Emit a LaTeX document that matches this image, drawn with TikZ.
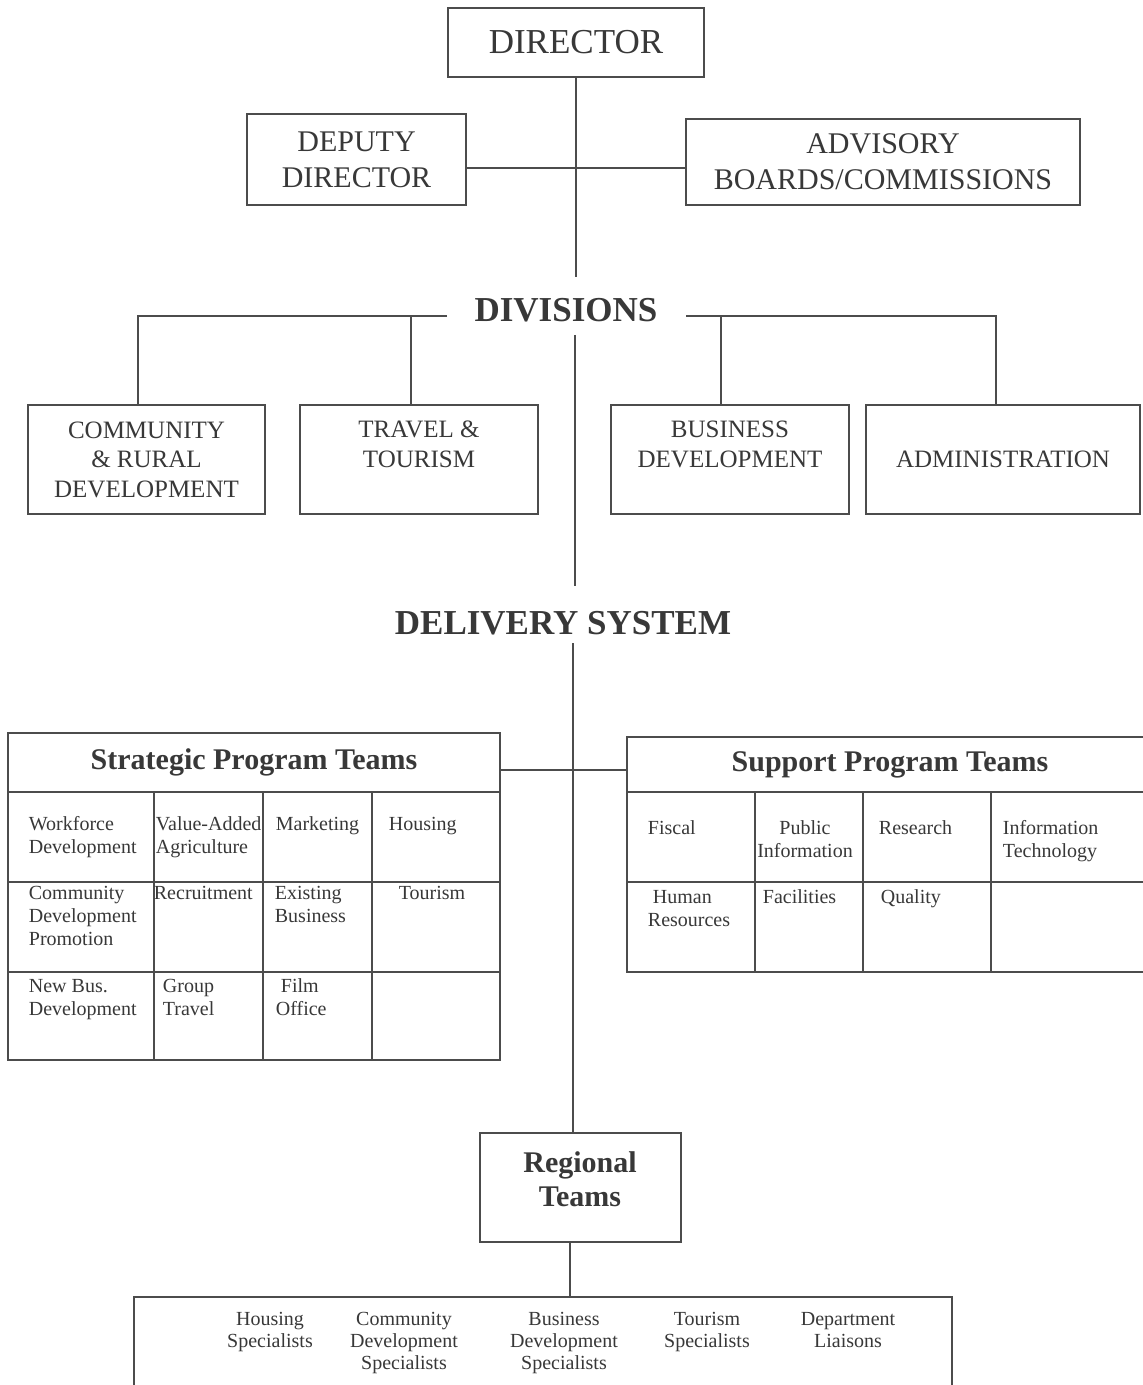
\documentclass[tikz,border=0pt]{standalone}
\usepackage{fontspec}
\setmainfont{Liberation Serif}
\definecolor{ink}{gray}{0.22}
\definecolor{rulec}{gray}{0.3}
\begin{document}
\begin{tikzpicture}[x=0.5pt,y=-0.5pt,line width=0.9pt,color=rulec,text=ink,
  box/.style={draw, rectangle, inner sep=0pt, align=center},
  bigcaps/.style={font=\fontsize{17.5}{21}\selectfont},
  midcaps/.style={font=\fontsize{15}{18}\selectfont},
  divcaps/.style={font=\fontsize{12.5}{14.75}\selectfont},
  heading/.style={font=\bfseries\fontsize{17.5}{21}\selectfont, inner sep=0pt},
  teamhead/.style={font=\bfseries\fontsize{15}{17}\selectfont, inner sep=0pt, align=center},
  cell/.style={font=\fontsize{10}{11.5}\selectfont, inner sep=0pt, align=left, anchor=north west},
  spec/.style={font=\fontsize{10}{11}\selectfont, inner sep=0pt, align=center, anchor=north},
]
\fill[white] (0,0) rectangle (1143,1385);
\useasboundingbox (0,0) rectangle (1143,1385);

% top level
\node[box,bigcaps,minimum width=128pt,minimum height=34.5pt] (dir) at (576,42.5) {DIRECTOR};
\node[box,midcaps,minimum width=109.5pt,minimum height=45.5pt] (dep) at (356.5,159.5) {DEPUTY\\DIRECTOR};
\node[box,midcaps,minimum width=197pt,minimum height=43pt] (adv) at (883,162) {ADVISORY\\BOARDS/COMMISSIONS};
\coordinate (d1) at (576,277);
\draw (dir.south) -- (d1);
\coordinate (h1) at (466,168);
\draw (dep.east |- h1) -- (adv.west |- h1);

% divisions
\node[heading] (divs) at (566,310) {DIVISIONS};
\coordinate (dl) at (447,316);
\coordinate (dr) at (686,316);
\node[box,divcaps,minimum width=118.5pt,minimum height=54.5pt] (comm) at (146.5,459.5) {COMMUNITY\\\& RURAL\\DEVELOPMENT};
\node[box,minimum width=119pt,minimum height=54.5pt] (trav) at (419,459.5) {};
\node[divcaps,align=center,anchor=north,inner sep=0pt] (travt) at ([yshift=-8pt]trav.north) {TRAVEL \&\\TOURISM};
\node[box,minimum width=119pt,minimum height=54.5pt] (bus) at (730,459.5) {};
\node[divcaps,align=center,anchor=north,inner sep=0pt] (bust) at ([yshift=-8pt]bus.north) {BUSINESS\\DEVELOPMENT};
\node[box,divcaps,minimum width=137pt,minimum height=54.5pt] (adm) at (1003,459.5) {ADMINISTRATION};
\draw (dl) -| ([xshift=-4.25pt]comm.north);
\draw ([xshift=-4pt]trav.north) -- ([xshift=-4pt]trav.north |- dl);
\draw (dr) -| ([xshift=-3.5pt]adm.north);
\draw ([xshift=-4.5pt]bus.north) -- ([xshift=-4.5pt]bus.north |- dr);

% central spine
\coordinate (c2a) at (575,335);
\coordinate (c2b) at (575,586);
\draw (c2a) -- (c2b);
\node[heading] (deliv) at (563,623) {DELIVERY SYSTEM};

% regional teams
\node[box,minimum width=100.5pt,minimum height=54.5pt] (reg) at (580.5,1187.5) {};
\node[teamhead] (regt) at (580,1179) {Regional\\Teams};
\coordinate (c3) at (573,643);
\draw (c3) -- (c3 |- reg.north);

% strategic program teams
\node[teamhead, minimum width=246pt, minimum height=29.5pt] (spt) at (254,762.5) {Strategic Program Teams};
\draw (8,733) rectangle (500,1060);
\draw (8,792) -- (500,792);
\draw (8,882) -- (500,882);
\draw (8,972) -- (500,972);
\draw (154,792) -- (154,1060);
\draw (263,792) -- (263,1060);
\draw (372,792) -- (372,1060);
\node[cell] (s11) at (28,816) {Workforce\\Development};
\node[cell] (s12) at (155,816) {Value-Added\\Agriculture};
\node[cell] (s13) at (275,816) {Marketing};
\node[cell] (s14) at (388,816) {Housing};
\node[cell] (s21) at (28,885) {Community\\Development\\Promotion};
\node[cell] (s22) at (153,885) {Recruitment};
\node[cell] (s23) at (274,885) {Existing\\Business};
\node[cell] (s24) at (398,885) {Tourism};
\node[cell] (s31) at (28,978) {New Bus.\\Development};
\node[cell] (s32) at (162,978) {Group\\Travel};
\node[cell] (s33) at (275,978) {\hspace{2.5pt}Film\\Office};

% support program teams
\node[teamhead, minimum width=258pt, minimum height=27.5pt] (supt) at (890,765) {Support Program Teams};
\draw (1143,737) -- (627,737) -- (627,972) -- (1143,972);
\draw (627,792) -- (1143,792);
\draw (627,882) -- (1143,882);
\draw (755,792) -- (755,972);
\draw (863,792) -- (863,972);
\draw (991,792) -- (991,972);
\node[cell] (u11) at (647,820) {Fiscal};
\node[cell,align=center,anchor=north] (u12) at (805,820) {Public\\Information};
\node[cell] (u13) at (878,820) {Research};
\node[cell] (u14) at (1002,820) {Information\\Technology};
\node[cell] (u21) at (647,889) {\hspace{2.5pt}Human\\Resources};
\node[cell] (u22) at (762,889) {Facilities};
\node[cell] (u23) at (880,889) {Quality};

% connector between team tables
\coordinate (stR) at (500,770);
\coordinate (suL) at (627,770);
\draw (stR) -- (suL);

% specialists
\coordinate (bt) at (570,1297);
\draw (reg.south -| bt) -- (bt);
\coordinate (bl) at (134,1385);
\coordinate (br) at (952,1385);
\draw (bl) -- (134,1297) -- (952,1297) -- (br);
\node[spec] (p1) at (270,1311) {Housing\\Specialists};
\node[spec] (p2) at (404,1311) {Community\\Development\\Specialists};
\node[spec] (p3) at (564,1311) {Business\\Development\\Specialists};
\node[spec] (p4) at (707,1311) {Tourism\\Specialists};
\node[spec] (p5) at (848,1311) {Department\\Liaisons};
\end{tikzpicture}
\end{document}
